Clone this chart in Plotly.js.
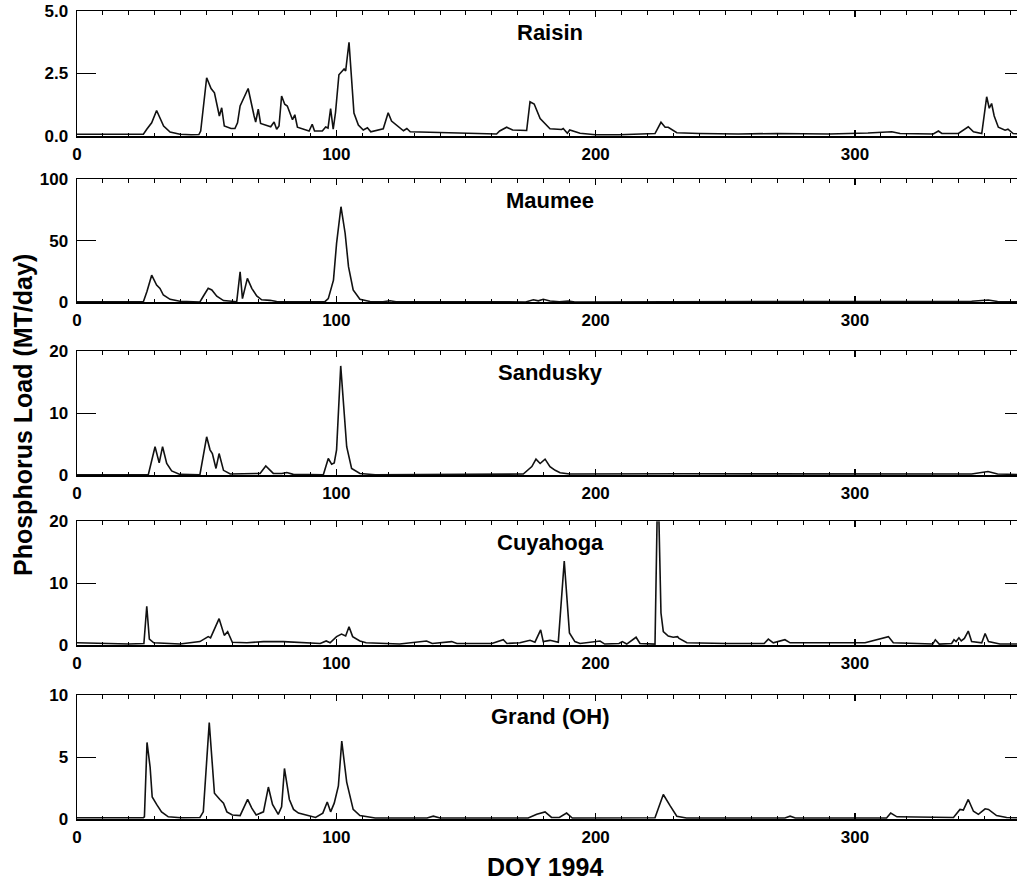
<!DOCTYPE html>
<html>
<head>
<meta charset="utf-8">
<script src="https://cdn.plot.ly/plotly-3.0.1.min.js"></script>
<style>
html,body{margin:0;padding:0;background:#fff;overflow:hidden;}
#chart{width:1040px;height:881px;}
</style>
</head>
<body>
<div id="chart"></div>
<script>
// ---- data (day of year 1994, phosphorus load MT/day) ----
const riverNames = ["Raisin", "Maumee", "Sandusky", "Cuyahoga", "Grand (OH)"];

const raisinDay = [0,10,20,25.6,26.9,28.8,30.7,33.4,35.9,39.7,44,47,47.7,50.0,51.7,53,54.9,55.8,56.8,59.4,60.9,61.9,62.9,66,68.3,68.9,69.9,70.8,74.7,76,77,77.9,78.9,80.1,81.1,83.1,84,85,89.5,90.7,91.6,94.6,95.9,96.8,97.8,98.8,99.7,101,103,103.6,104.9,106.8,108.5,110.4,112,113.3,118.1,120,121.3,123.3,125.9,127.2,128.5,136,149,161.8,163,165.7,168,173.4,174.7,176.3,178.6,182.4,186.9,187.5,189.1,190,194,200,209,222.9,225.2,226.8,228,231.3,240,255,270,290,305,314.2,317.4,330.2,332.2,333.5,339.9,343.7,345.7,348.9,350.8,351.8,352.7,353.7,355.3,357.9,359,361,365];
const raisinLoad = [0.07,0.06,0.06,0.07,0.27,0.53,1.02,0.4,0.16,0.07,0.05,0.06,0.2,2.33,1.9,1.73,0.8,1.13,0.4,0.3,0.3,0.53,1.2,1.9,0.8,0.56,1.07,0.5,0.37,0.56,0.27,0.4,1.6,1.27,1.2,0.65,0.85,0.35,0.2,0.47,0.2,0.2,0.36,0.32,1.1,0.27,0.95,2.45,2.68,2.6,3.75,0.92,0.44,0.24,0.33,0.17,0.29,0.93,0.6,0.44,0.21,0.3,0.17,0.15,0.1,0.08,0.2,0.35,0.24,0.22,1.37,1.28,0.7,0.29,0.26,0.3,0.11,0.24,0.11,0.05,0.05,0.1,0.55,0.35,0.35,0.13,0.1,0.08,0.1,0.08,0.12,0.17,0.1,0.08,0.2,0.1,0.1,0.37,0.17,0.1,1.57,1.11,1.3,0.8,0.35,0.23,0.27,0.1,0.08];

const maumeeDay = [0,25.6,27,28.8,30.7,32,33.3,35.9,39.7,47.4,48.7,50.6,52,53.9,56.5,61.6,62.9,63.8,65.7,67.4,69.3,71.2,74.4,77,95.6,96.9,98.9,100.1,101.8,103.4,104.7,106.5,109.1,113,118,120.7,123,173,176,177.9,179.8,182.4,186,189.5,192,340,345,351.4,355,365];
const maumeeLoad = [0.4,0.4,9,22,14,11.3,5.9,2.4,0.8,0.3,4.9,11.3,10,4.9,1.4,0.5,24.8,3,19.4,11.3,5.2,2,1.6,0.7,0.5,3,18,47.8,77.5,56,28.9,10,2.4,0.6,0.5,1.3,0.4,0.3,2,1.2,2.5,1,0.5,1,0.3,0.3,0.8,1.9,0.6,0.3];

const sanduskyDay = [0,27.5,30.1,31.7,33,34.6,36.5,39.7,47.4,50.0,51.3,52.2,53.6,54.8,56.5,59.1,70.6,72.8,75.7,79,80.9,83.4,95,96.9,98.2,99.2,100.1,101.7,104,105.9,109.1,115,172.1,175.4,177,178.6,180.5,182.4,184.4,186.3,190,224.8,234,345,351.3,355,365];
const sanduskyLoad = [0.1,0.1,4.6,2.0,4.6,1.9,0.7,0.15,0.1,6.2,4.1,3.5,1.1,3.5,0.8,0.2,0.3,1.5,0.3,0.3,0.45,0.15,0.1,2.7,1.8,2.0,4.1,17.6,4.6,1.1,0.3,0.1,0.2,1.4,2.6,1.9,2.6,1.4,0.8,0.4,0.2,0.3,0.25,0.2,0.6,0.2,0.1];

const cuyahogaDay = [0,10,20,25.8,26.9,27.9,29.6,39.7,47.4,50.6,51.5,54.8,56.8,58.1,59.9,65.5,71.9,79.6,86,93.8,96.1,97.6,100.1,102,103.6,104.9,106.3,109.1,111.5,119.4,124.4,134.8,137,144.5,146.5,160,164.4,165.8,170.8,174.7,176.6,178.8,179.8,182.4,185.6,187.9,189.9,192,194,201.7,203.5,209,210.3,212,215.6,217.1,222.9,224.0,225.2,226.1,228,229.9,231.6,232.2,235.2,250.5,265,266.6,268.5,273,275,303.9,312.9,314.8,330,331,332.5,337.3,338.2,339,340.1,341,342.2,343.7,345,348.9,350.2,351.5,355.9,365];
const cuyahogaLoad = [0.4,0.3,0.2,0.3,6.3,1.0,0.4,0.2,0.6,1.4,1.2,4.3,1.6,2.2,0.5,0.4,0.6,0.6,0.5,0.3,0.7,0.4,1.4,1.8,1.5,3.0,1.4,0.7,0.4,0.3,0.2,0.7,0.3,0.6,0.3,0.3,0.9,0.3,0.4,0.8,0.5,2.5,0.6,0.8,0.5,13.6,2.0,0.6,0.3,0.7,0.2,0.3,0.6,0.2,1.3,0.3,0.2,28,5.2,2.2,1.5,1.3,1.4,1.1,0.4,0.3,0.3,1.0,0.4,0.9,0.4,0.4,1.4,0.4,0.2,0.9,0.2,0.3,0.9,0.6,1.2,0.7,1.1,2.3,0.6,0.4,1.9,0.6,0.2,0.2];

const grandDay = [0,25.6,26,27.0,28.2,29.0,30.7,32.6,35.2,40,47.4,48.7,51.0,53,55.1,56.5,57.8,59.9,62.9,65.8,67.4,69.1,71.9,73.8,75.4,77.6,78.9,80.0,81.9,83.5,85.4,89.9,92,94.8,96.5,97.8,99.2,100.8,102.1,104,106.5,109.1,115,135,137.4,140,174,177.3,180.5,183,186,188.8,191,222.9,226.1,228.7,231.3,235,273,275,277,312.2,313.8,316.2,338,340.5,341.8,343.7,345.7,347.6,350.2,351.5,354.6,358.5,365];
const grandLoad = [0.13,0.13,0.2,6.2,4.2,1.8,1.2,0.6,0.2,0.13,0.15,0.6,7.8,2.1,1.6,1.3,0.6,0.35,0.3,1.6,0.9,0.35,0.6,2.6,1.2,0.4,1.0,4.1,1.6,0.8,0.5,0.3,0.15,0.5,1.4,0.6,1.3,2.7,6.3,3.0,0.8,0.3,0.1,0.1,0.25,0.1,0.1,0.4,0.6,0.15,0.15,0.5,0.1,0.12,2.0,1.1,0.25,0.1,0.1,0.25,0.1,0.1,0.5,0.2,0.15,0.8,0.75,1.6,0.65,0.4,0.85,0.8,0.3,0.15,0.1];

const yMax = [5, 100, 20, 20, 10];
const yTickVals = [[0, 2.5, 5], [0, 50, 100], [0, 10, 20], [0, 10, 20], [0, 5, 10]];
const yTickText = [["0.0", "2.5", "5.0"], ["0", "50", "100"], ["0", "10", "20"], ["0", "10", "20"], ["0", "5", "10"]];
const xTickVals = [0, 100, 200, 300];
const xTickText = ["0", "100", "200", "300"];

const days = [raisinDay, maumeeDay, sanduskyDay, cuyahogaDay, grandDay];
const loads = [raisinLoad, maumeeLoad, sanduskyLoad, cuyahogaLoad, grandLoad];

// ---- layout geometry (pixels) ----
const W = 1040, H = 881;
const plotLeft = 77, plotRight = 1023.5;
const panelTop = [11, 179, 351, 521.3, 695.3];
const panelBot = [136, 302.3, 475.3, 645.3, 819.3];

const FONT = "Liberation Sans, Arial, Helvetica, sans-serif";

const traces = [];
const layout = {
  width: W, height: H,
  margin: {l: 0, r: 0, t: 0, b: 0, pad: 0},
  paper_bgcolor: "#fff", plot_bgcolor: "#fff",
  showlegend: false,
  annotations: []
};

for (let i = 0; i < 5; i++) {
  const n = i === 0 ? "" : String(i + 1);
  traces.push({
    x: days[i], y: loads[i],
    type: "scatter", mode: "lines",
    line: {color: "#111", width: 1.6},
    xaxis: "x" + n, yaxis: "y" + n,
    hoverinfo: "skip"
  });
  layout["xaxis" + n] = {
    domain: [plotLeft / W, plotRight / W],
    range: [0, 365],
    anchor: "y" + n,
    tickmode: "array", tickvals: xTickVals, ticktext: xTickText,
    ticks: "inside", ticklen: 6, tickwidth: 1.2, tickcolor: "#000",
    minor: {tickmode: "linear", tick0: 0, dtick: 10, ticks: "inside", ticklen: 3.5, tickwidth: 1, tickcolor: "#000"},
    showline: true, linecolor: "#000", linewidth: 1.5, mirror: "ticks",
    showgrid: false, zeroline: false,
    ticklabelstandoff: 2,
    tickfont: {family: FONT, size: 17, color: "#000", weight: "bold"}
  };
  layout["yaxis" + n] = {
    domain: [1 - panelBot[i] / H, 1 - panelTop[i] / H],
    range: [0, yMax[i]],
    anchor: "x" + n,
    tickmode: "array", tickvals: yTickVals[i], ticktext: yTickText[i],
    ticks: "inside", ticklen: 19, tickwidth: 1.2, tickcolor: "#000",
    showline: true, linecolor: "#000", linewidth: 1.5, mirror: "ticks",
    showgrid: false, zeroline: false,
    ticklabelstandoff: 4,
    tickfont: {family: FONT, size: 17, color: "#000", weight: "bold"}
  };
  layout.annotations.push({
    text: riverNames[i],
    xref: "paper", yref: "paper",
    x: (plotLeft + plotRight) / 2 / W,
    y: 1 - (panelTop[i] + 21) / H,
    xanchor: "center", yanchor: "middle",
    showarrow: false,
    font: {family: FONT, size: 22, color: "#000", weight: "bold"}
  });
}

layout.annotations.push({
  text: "Phosphorus Load (MT/day)",
  xref: "paper", yref: "paper",
  x: 23 / W, y: 1 - 415 / H,
  xanchor: "center", yanchor: "middle",
  textangle: -90, showarrow: false,
  font: {family: FONT, size: 25, color: "#000", weight: "bold"}
});
layout.annotations.push({
  text: "DOY 1994",
  xref: "paper", yref: "paper",
  x: 545 / W, y: 1 - 867 / H,
  xanchor: "center", yanchor: "middle",
  showarrow: false,
  font: {family: FONT, size: 25, color: "#000", weight: "bold"}
});

Plotly.newPlot("chart", traces, layout, {staticPlot: true, displayModeBar: false});
</script>
</body>
</html>
